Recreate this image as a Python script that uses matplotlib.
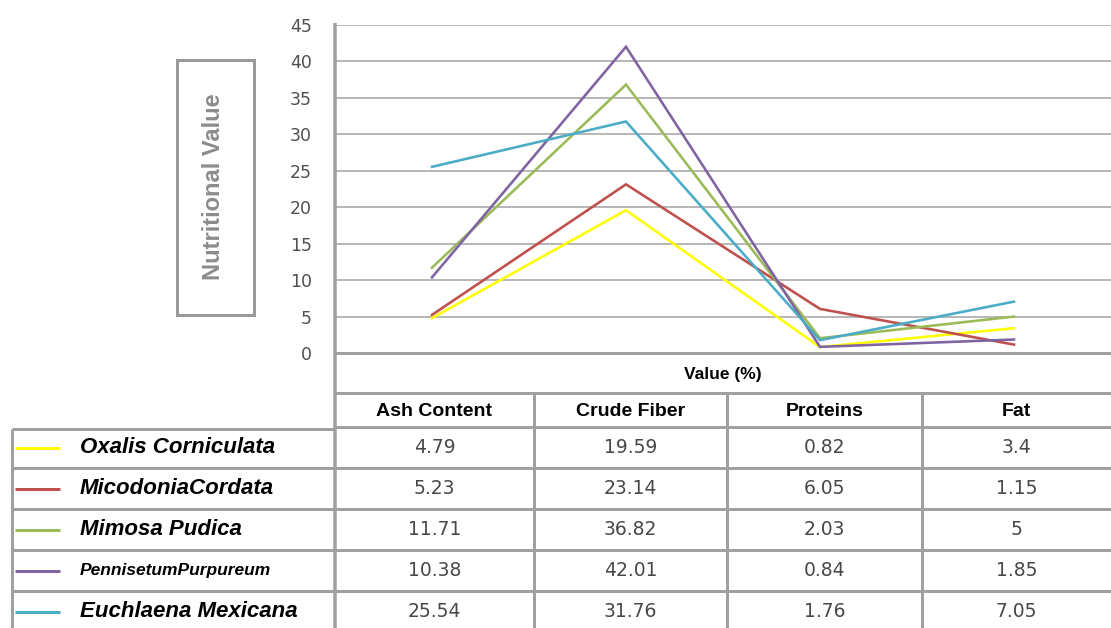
import matplotlib
matplotlib.use("Agg")
import matplotlib.pyplot as plt

categories = ["Ash Content", "Crude Fiber", "Proteins", "Fat"]
species = ["Oxalis Corniculata", "MicodoniaCordata", "Mimosa Pudica",
           "PennisetumPurpureum", "Euchlaena Mexicana"]
oxalis = [4.79, 19.59, 0.82, 3.4]
micodonia = [5.23, 23.14, 6.05, 1.15]
mimosa = [11.71, 36.82, 2.03, 5]
pennisetum = [10.38, 42.01, 0.84, 1.85]
euchlaena = [25.54, 31.76, 1.76, 7.05]
cell_text = [["4.79", "19.59", "0.82", "3.4"],
             ["5.23", "23.14", "6.05", "1.15"],
             ["11.71", "36.82", "2.03", "5"],
             ["10.38", "42.01", "0.84", "1.85"],
             ["25.54", "31.76", "1.76", "7.05"]]
series = [oxalis, micodonia, mimosa, pennisetum, euchlaena]
colors = ["#FFFF00", "#C0504D", "#9BBB59", "#8064A2", "#4BACC6"]
yticks = [0, 5, 10, 15, 20, 25, 30, 35, 40, 45]

W, H = 1111, 628
PX = 0.72  # points per pixel at dpi 100
grid_c = "#B8B8B8"
line_c = "#A0A0A0"

fig = plt.figure(figsize=(W / 100, H / 100), dpi=100)
fig.patch.set_facecolor("white")

# chart area
x0, x1, ytop, ybot = 335, 1111, 25, 353
ax = fig.add_axes([x0 / W, (H - ybot) / H, (x1 - x0) / W, (ybot - ytop) / H])
ax.set_xlim(-0.5, len(categories) - 0.5)
ax.set_ylim(0, 45)
ax.set_yticks(yticks)
ax.set_xticks([])
ax.yaxis.grid(True, color=grid_c, lw=2 * PX)
ax.set_axisbelow(True)
for s in ax.spines.values():
    s.set_visible(False)
ax.tick_params(axis="y", length=0, pad=23 * PX, labelsize=12.5, labelcolor="#505050")
for lab in ax.get_yticklabels():
    lab.set_family("DejaVu Sans")

xs = list(range(len(categories)))
for vals, c in zip(series, colors):
    ax.plot(xs, vals, color=c, lw=2.6 * PX, solid_joinstyle="miter", clip_on=False)

# overlay in pixel coordinates for the table and decorations
ov = fig.add_axes([0, 0, 1, 1])
ov.set_xlim(0, W)
ov.set_ylim(H, 0)
ov.axis("off")
ov.patch.set_alpha(0)

def hl(y, xa, xb, lw=3, c=line_c):
    ov.plot([xa, xb], [y, y], color=c, lw=lw * PX, solid_capstyle="butt")

def vl(x, ya, yb, lw=3, c=line_c):
    ov.plot([x, x], [ya, yb], color=c, lw=lw * PX, solid_capstyle="butt")

vl(x0, 23, H, lw=3.5)
hl(353, x0, W)
hl(393, x0, W)
hl(427, x0, W)
hl(429, 12, x0)
row_lines = [468, 509, 550, 591]
for y in row_lines:
    hl(y, 12, W)
col_edges = [x0, 534, 727, 922, W]
for x in col_edges[1:-1]:
    vl(x, 393, H)
vl(12, 429, H)

ov.text((x0 + W) / 2, 374, "Value (%)", ha="center", va="center",
        fontsize=12.5, fontweight="bold", family="Liberation Sans", color="black")

for i, cat in enumerate(categories):
    cx = (col_edges[i] + col_edges[i + 1]) / 2
    ov.text(cx, 411, cat, ha="center", va="center", fontsize=14,
            fontweight="bold", family="Liberation Sans", color="black")

row_bounds = [427, 468, 509, 550, 591, 632]
for r, name in enumerate(species):
    cy = (row_bounds[r] + row_bounds[r + 1]) / 2
    for i in range(len(categories)):
        cx = (col_edges[i] + col_edges[i + 1]) / 2
        ov.text(cx, cy, cell_text[r][i], ha="center", va="center",
                fontsize=13.5, family="DejaVu Sans", color="#484848")
    ov.plot([15, 60], [cy, cy], color=colors[r], lw=3 * PX, solid_capstyle="butt")
    fs = 12.5 if name == "PennisetumPurpureum" else 16
    ov.text(80, cy, name, ha="left", va="center", fontsize=fs,
            fontweight="bold", style="italic", family="Liberation Sans", color="black")

# y-axis title box
box = plt.Rectangle((177, 60), 77, 255, fill=False, edgecolor="#9A9A9A", lw=3 * PX)
ov.add_patch(box)
ov.text(213, 187, "Nutritional Value", rotation=90, ha="center", va="center",
        fontsize=17, fontweight="bold", family="Liberation Sans", color="#8C8C8C")

fig.savefig("out.png", dpi=100)
